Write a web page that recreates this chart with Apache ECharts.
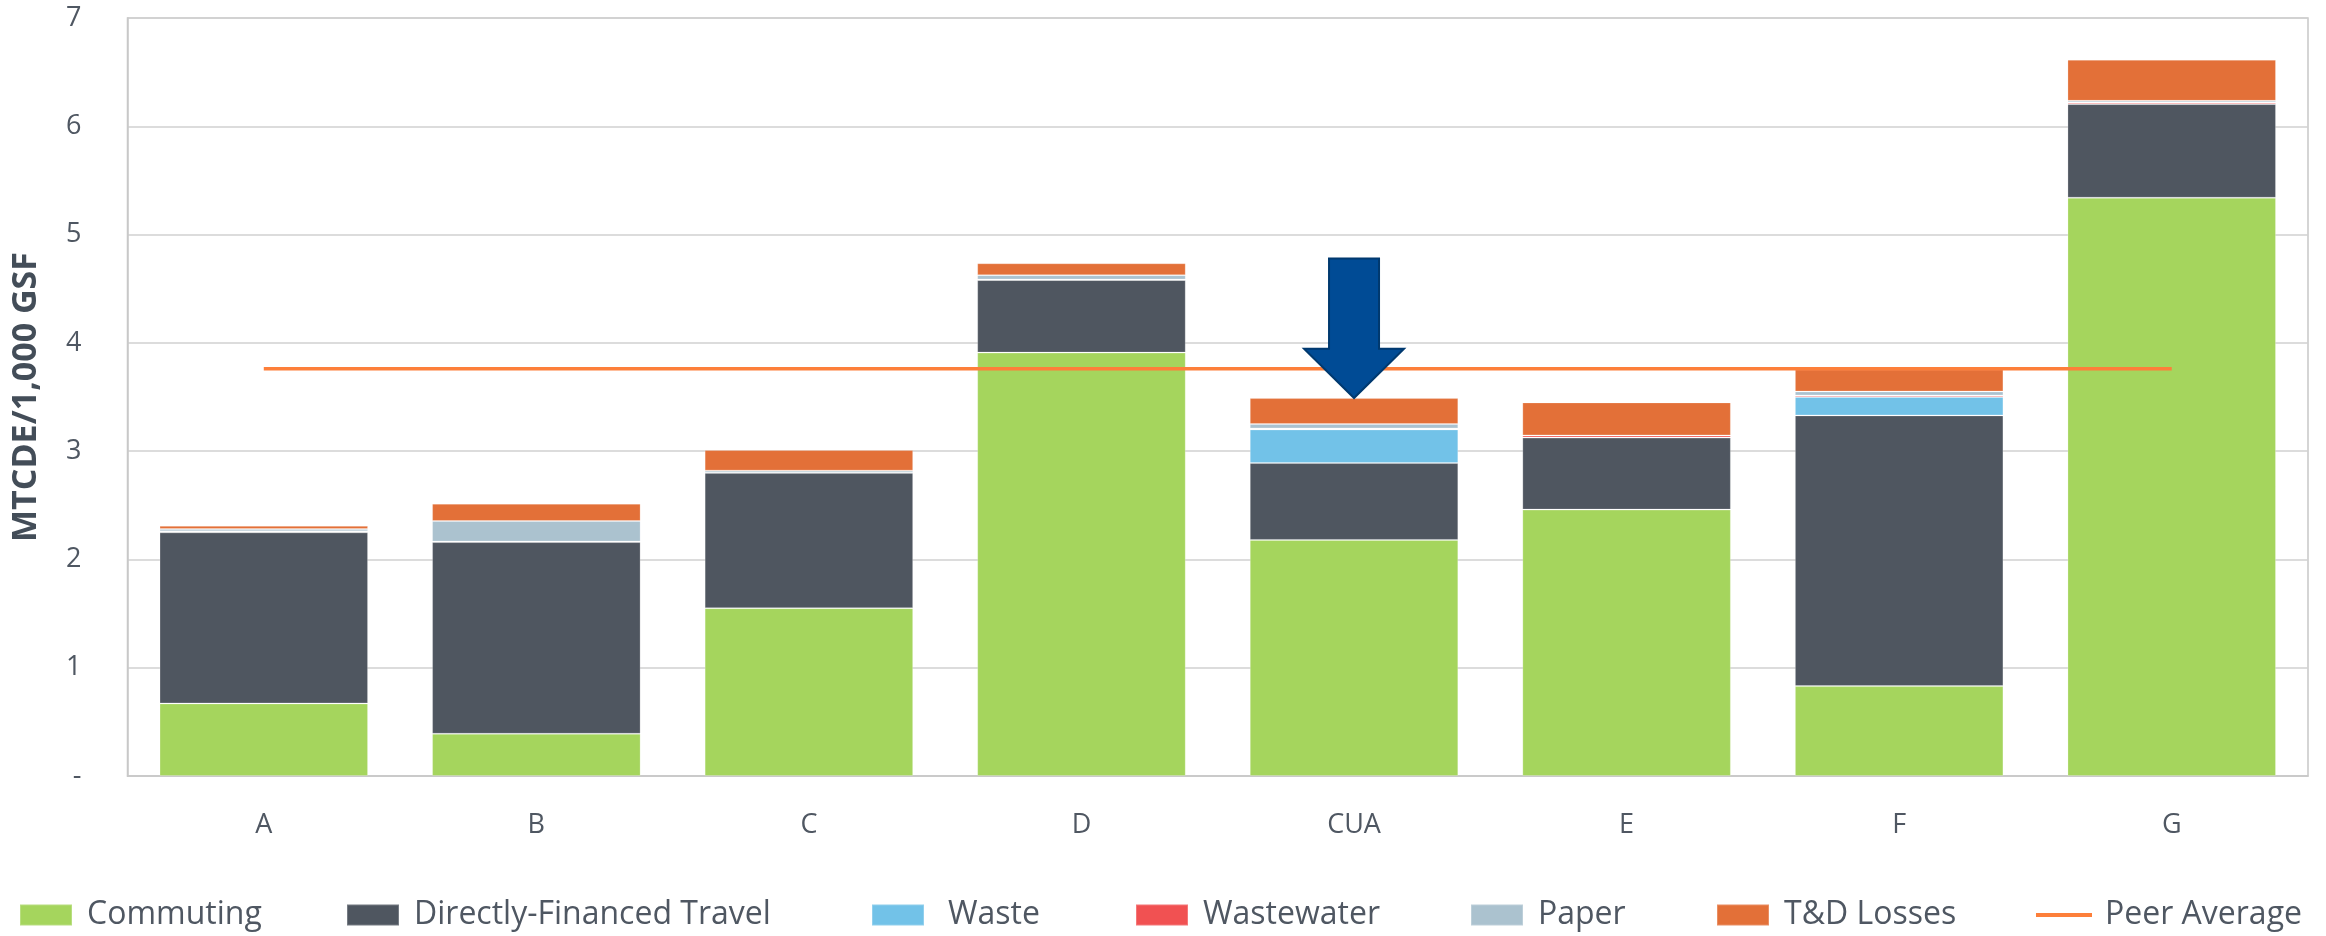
<!DOCTYPE html>
<html>
<head>
<meta charset="utf-8">
<script src="https://cdn.jsdelivr.net/npm/echarts@6/dist/echarts.min.js"></script>
<style>
  html, body { margin: 0; padding: 0; background: #ffffff; }
  #chart { width: 2326px; height: 936px; }
</style>
</head>
<body>
<div id="chart"></div>
<script>
// Emissions intensity by institution, MTCDE per 1,000 gross square feet
const categories = ['A', 'B', 'C', 'D', 'CUA', 'E', 'F', 'G'];
const commuting  = [0.67, 0.39, 1.55, 3.91, 2.18, 2.46, 0.83, 5.34];
const travel     = [1.58, 1.77, 1.25, 0.67, 0.71, 0.665, 2.50, 0.865];
const waste      = [-0.02, -0.01, 0, 0, 0.31, 0, 0.17, 0];
const wastewater = [0.01, 0.005, 0, 0.005, 0.01, 0.02, 0.015, 0.015];
const paper      = [0.02, 0.19, 0.02, 0.04, 0.04, 0, 0.035, 0.015];
const tdLosses   = [0.03, 0.16, 0.19, 0.11, 0.24, 0.305, 0.205, 0.38];
const peerAverage = [3.76, 3.76, 3.76, 3.76, 3.76, 3.76, 3.76, 3.76];
const yTicks = [0, 1, 2, 3, 4, 5, 6, 7];

// Highlighted institution and arrow extent (axis values)
const highlight = 'CUA';
const arrowTopValue = 4.78;
const arrowHeadValue = 3.945;

const textColor = '#4F5762';
const fontFamily = '"Open Sans", "Noto Sans", sans-serif';

const stackNames = ['Commuting', 'Directly-Financed Travel', 'Waste', 'Wastewater', 'Paper', 'T&D Losses'];
const stackData = [commuting, travel, waste, wastewater, paper, tdLosses];
const stackColors = ['#A5D55D', '#4F5660', '#72C2E8', '#F15152', '#ABC2CF', '#E37038'];
const peerColor = '#FD7F3A';

// Legend entry placement: left edge of each key and gap between key and text
const legendEntries = [
  { name: 'Commuting', left: 19, gap: 10 },
  { name: 'Directly-Financed Travel', left: 346, gap: 10 },
  { name: 'Waste', left: 871, gap: 19 },
  { name: 'Wastewater', left: 1135, gap: 10 },
  { name: 'Paper', left: 1470, gap: 10 },
  { name: 'T&D Losses', left: 1716, gap: 10 },
  { name: 'Peer Average', left: 2036, gap: 8, line: true }
];

const chart = echarts.init(document.getElementById('chart'), null, { renderer: 'canvas' });

const barSeries = stackNames.map((name, i) => ({
  name: name,
  type: 'bar',
  stack: 'total',
  barCategoryGap: '23.5%',
  data: stackData[i],
  itemStyle: {
    color: stackColors[i],
    borderColor: 'rgba(255,255,255,0.22)',
    borderWidth: 1
  },
  emphasis: { disabled: true }
}));

const legends = legendEntries.map(e => ({
  left: e.left,
  top: 899,
  padding: 0,
  itemWidth: e.line ? 56 : 52,
  itemHeight: e.line ? 4 : 21,
  textStyle: { fontFamily: fontFamily, fontSize: 32, color: textColor, padding: [0, 0, 0, e.gap] },
  data: [{ name: e.name, icon: 'rect' }]
}));

const option = {
  animation: false,
  backgroundColor: '#ffffff',
  grid: {
    left: 127.5,
    right: 18,
    top: 18,
    bottom: 160,
    show: true,
    borderColor: '#C8C8C8',
    borderWidth: 1.5,
    containLabel: false
  },
  legend: legends,
  xAxis: {
    type: 'category',
    data: categories,
    axisLine: { show: true, lineStyle: { color: '#C8C8C8', width: 1.5 } },
    axisTick: { show: false },
    axisLabel: { fontFamily: fontFamily, fontSize: 27, color: textColor, margin: 36 }
  },
  yAxis: {
    type: 'value',
    min: yTicks[0],
    max: yTicks[yTicks.length - 1],
    interval: 1,
    name: 'MTCDE/1,000 GSF',
    nameLocation: 'middle',
    nameRotate: 90,
    nameGap: 84,
    nameTextStyle: { fontFamily: fontFamily, fontSize: 34, fontWeight: 'bold', color: '#434D58' },
    axisLine: { show: true, lineStyle: { color: '#C8C8C8', width: 1.5 } },
    axisTick: { show: false },
    splitLine: { show: true, lineStyle: { color: '#D0D0D0', width: 1.5 } },
    axisLabel: {
      fontFamily: fontFamily,
      fontSize: 27,
      color: textColor,
      margin: 46,
      formatter: v => (v === 0 ? '-' : String(v))
    }
  },
  series: barSeries.concat([{
    name: 'Peer Average',
    type: 'line',
    data: peerAverage,
    symbol: 'none',
    z: 5,
    itemStyle: { color: peerColor },
    lineStyle: { color: peerColor, width: 3.5 },
    emphasis: { disabled: true }
  }])
};

chart.setOption(option);

// Down arrow pointing at the highlighted bar, placed through the axis scales
function drawArrow() {
  const idx = categories.indexOf(highlight);
  let total = 0;
  stackData.forEach(arr => { if (arr[idx] > 0) total += arr[idx]; });
  const top = chart.convertToPixel({ xAxisIndex: 0, yAxisIndex: 0 }, [highlight, arrowTopValue]);
  const head = chart.convertToPixel({ xAxisIndex: 0, yAxisIndex: 0 }, [highlight, arrowHeadValue]);
  const tip = chart.convertToPixel({ xAxisIndex: 0, yAxisIndex: 0 }, [highlight, total]);
  const cx = top[0];
  const shaftHalf = 25;
  const headHalf = 50;
  chart.setOption({
    graphic: [{
      type: 'polygon',
      z: 100,
      shape: {
        points: [
          [cx - shaftHalf, top[1]],
          [cx + shaftHalf, top[1]],
          [cx + shaftHalf, head[1]],
          [cx + headHalf, head[1]],
          [cx, tip[1]],
          [cx - headHalf, head[1]],
          [cx - shaftHalf, head[1]]
        ]
      },
      style: { fill: '#004B95', stroke: '#00396F', lineWidth: 2 }
    }]
  });
}
drawArrow();
</script>
</body>
</html>
